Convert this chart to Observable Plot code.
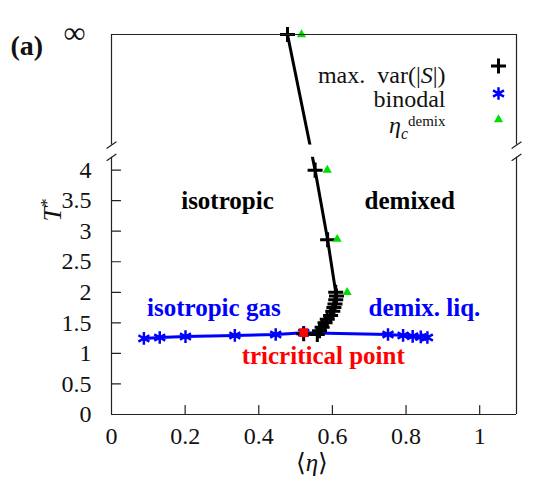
<!DOCTYPE html>
<html>
<head>
<meta charset="utf-8">
<script src="https://cdn.jsdelivr.net/npm/d3@7"></script>
<script src="https://cdn.jsdelivr.net/npm/@observablehq/plot@0.6"></script>
<style>
  body { margin: 0; background: #fff; }
  #chart { width: 541px; height: 488px; }
</style>
</head>
<body>
<div id="chart"></div>
<script>
// Maximum of var(|S|): packing fraction ⟨η⟩ and reduced temperature T* (Infinity = athermal limit)
const crossEta = [0.478, 0.553, 0.587, 0.609, 0.611, 0.609, 0.607, 0.604, 0.601, 0.595, 0.586, 0.580, 0.572, 0.565, 0.559, 0.522];
const crossT   = [Infinity, 4.0, 2.86, 2.0, 1.94, 1.88, 1.81, 1.75, 1.69, 1.62, 1.56, 1.50, 1.43, 1.37, 1.31, 1.32];

// Binodal (gas / demixed liquid coexistence)
const binodalEta = [0.088, 0.131, 0.201, 0.335, 0.446, 0.522, 0.751, 0.792, 0.818, 0.840, 0.858];
const binodalT   = [1.245, 1.26, 1.275, 1.295, 1.31, 1.34, 1.31, 1.295, 1.28, 1.27, 1.26];

// Critical packing fraction of demixing
const demixEta = [0.516, 0.586, 0.613, 0.640];
const demixT   = [Infinity, 4.0, 2.87, 2.0];

// Tricritical point
const tricriticalEta = [0.522];
const tricriticalT   = [1.34];

// Tick values and labels
const xTicks = [0, 0.2, 0.4, 0.6, 0.8, 1];
const xTickLabels = ["0", "0.2", "0.4", "0.6", "0.8", "1"];
const yTicks = [0, 0.5, 1, 1.5, 2, 2.5, 3, 3.5, 4];
const yTickLabels = ["0", "0.5", "1", "1.5", "2", "2.5", "3", "3.5", "4"];

// Region annotations
const annotations = [
  {text: "isotropic", eta: 0.315, T: 3.5, color: "black"},
  {text: "demixed", eta: 0.81, T: 3.5, color: "black"},
  {text: "isotropic gas", eta: 0.278, T: 1.74, color: "blue"},
  {text: "demix. liq.", eta: 0.85, T: 1.74, color: "blue"},
  {text: "tricritical point", eta: 0.575, T: 0.955, color: "red"}
];

// Broken axis: lower panel shows T* in [0, LOWER_TOP]; the strip at INF_ROW stands for T* = ∞
const X_MAX = 1.1;
const LOWER_TOP = 4.21;
const UPPER_BOTTOM = 4.41;
const INF_ROW = 6.22;
const row = t => Number.isFinite(t) ? t : INF_ROW;

const SERIF = "'Liberation Serif', 'Times New Roman', serif";
const INK = "#111";
const BLUE = "#0000ff";
const GREEN = "#00dd00";
const RED = "#ff0000";

const crosses = crossEta.map((eta, i) => ({eta, T: row(crossT[i])}));
const binodal = binodalEta.map((eta, i) => ({eta, T: row(binodalT[i])}));
const demix = demixEta.map((eta, i) => ({eta, T: row(demixT[i])}));
const tricritical = tricriticalEta.map((eta, i) => ({eta, T: tricriticalT[i]}));

// marker styles shared by plot and legend
const plusStyle = {symbol: "plus", r: 4.9, stroke: "black", strokeWidth: 3};
const starStyle = {symbol: "asterisk", r: 6, stroke: BLUE, strokeWidth: 2.5};
const triStyle = {symbol: "triangle", r: 3.4, fill: GREEN};

// straight stroke used for tick marks and axis-break marks
const stroke = {draw(context, l) { context.moveTo(0, 0); context.lineTo(0, -l); }};

const breaks = [0, X_MAX].flatMap(x => [LOWER_TOP, UPPER_BOTTOM].map(y => ({x, y})));

const legendEntries = [
  {label: "max. var(|S|)", style: plusStyle, textDy: 31, symDy: 31.5},
  {label: "binodal", style: starStyle, textDy: 55, symDy: 59},
  {label: "η_c^demix", style: triStyle, textDy: 81, symDy: 85}
];

const legendMarks = legendEntries.flatMap(e => [
  Plot.text([e.label], {frameAnchor: "top-right", dx: -71, dy: e.textDy, textAnchor: "end", text: d => d,
    fill: INK, fontSize: 24, letterSpacing: 1}),
  Plot.dot([e], {frameAnchor: "top-right", dx: -18, dy: e.symDy, ...e.style})
]);

const chart = Plot.plot({
  width: 541,
  height: 488,
  marginLeft: 111,
  marginRight: 25,
  marginTop: 34,
  marginBottom: 74,
  x: {domain: [0, X_MAX]},
  y: {domain: [0, INF_ROW]},
  style: {fontFamily: SERIF, fontSize: "23px", background: "white", color: INK, overflow: "visible"},
  marks: [
    // binodal
    Plot.line(binodal, {x: "eta", y: "T", stroke: BLUE, strokeWidth: 3}),
    Plot.dot(binodal, {x: "eta", y: "T", ...starStyle}),
    // maximum of var(|S|)
    Plot.line(crosses, {x: "eta", y: "T", stroke: "black", strokeWidth: 3}),
    Plot.dot(crosses, {x: "eta", y: "T", ...plusStyle}),
    // demixing packing fraction
    Plot.dot(demix, {x: "eta", y: "T", ...triStyle}),
    // tricritical point
    Plot.dot(tricritical, {x: "eta", y: "T", symbol: "square", r: 5, fill: RED}),

    // gap between the two panels
    Plot.rect([0], {x1: 0, x2: X_MAX, y1: LOWER_TOP, y2: UPPER_BOTTOM, fill: "white"}),

    // panel borders
    Plot.ruleX([0, X_MAX], {y1: 0, y2: LOWER_TOP, stroke: "#222", strokeWidth: 1.2}),
    Plot.ruleX([0, X_MAX], {y1: UPPER_BOTTOM, y2: INF_ROW, stroke: "#222", strokeWidth: 1.2}),
    Plot.ruleY([0, INF_ROW], {stroke: "#222", strokeWidth: 1.2}),
    Plot.vector(breaks, {x: "x", y: "y", rotate: 55, length: 11, anchor: "middle", shape: stroke, stroke: "#222", strokeWidth: 1.2}),

    // inward tick marks
    Plot.vector(xTicks.filter(d => d > 0), {x: d => d, frameAnchor: "bottom", rotate: 0, length: 9, anchor: "start", shape: stroke, stroke: "#222", strokeWidth: 1.2}),
    Plot.vector(yTicks.filter(d => d > 0), {y: d => d, frameAnchor: "left", rotate: 90, length: 9, anchor: "start", shape: stroke, stroke: "#222", strokeWidth: 1.2}),

    // tick labels
    Plot.axisX({ticks: xTicks, tickFormat: d => xTickLabels[xTicks.indexOf(d)], tickSize: 0, tickPadding: 12, label: null, fill: INK, fontSize: 24}),
    Plot.axisY({ticks: yTicks, tickFormat: d => yTickLabels[yTicks.indexOf(d)], tickSize: 0, tickPadding: 20, label: null, fill: INK, fontSize: 24}),
    Plot.text(["∞"], {frameAnchor: "left", y: INF_ROW, dx: -26, dy: -1, textAnchor: "end", text: d => d, fill: INK, fontSize: 31}),

    // axis titles and panel tag
    Plot.text(["⟨η⟩"], {frameAnchor: "bottom", dy: 56, dx: -2, text: d => d, fill: INK, fontSize: 25}),
    Plot.text(["T*"], {frameAnchor: "left", dx: -59, dy: -3, rotate: -90, text: d => d, fill: INK, fontSize: 26}),
    Plot.text(["(a)"], {frameAnchor: "top-left", dx: -101, dy: 1, textAnchor: "start", text: d => d, fontWeight: "bold", fill: INK, fontSize: 28, letterSpacing: 0.8}),

    // region annotations
    Plot.text(annotations, {x: "eta", y: "T", text: "text", fill: "color", fontWeight: "bold", fontSize: 25, letterSpacing: 1.7}),

    ...legendMarks
  ]
});

// rich text: italics, sub- and superscripts
const SVGNS = "http://www.w3.org/2000/svg";
function rich(plain, parts) {
  chart.querySelectorAll("text").forEach(el => {
    if (el.textContent !== plain) return;
    el.textContent = "";
    for (const p of parts) {
      const t = document.createElementNS(SVGNS, "tspan");
      t.textContent = p.text;
      for (const [k, v] of Object.entries(p.attrs || {})) t.setAttribute(k, v);
      el.appendChild(t);
    }
  });
}
rich("max. var(|S|)", [
  {text: "max.\u00a0\u00a0var(|"},
  {text: "S", attrs: {"font-style": "italic"}},
  {text: "|)"}
]);
rich("η_c^demix", [
  {text: "η", attrs: {"font-style": "italic"}},
  {text: "c", attrs: {"font-style": "italic", "font-size": 16, dy: 6}},
  {text: "demix", attrs: {"font-size": 15, dy: -13}}
]);
rich("⟨η⟩", [
  {text: "⟨"},
  {text: "η", attrs: {"font-style": "italic"}},
  {text: "⟩"}
]);
rich("T*", [
  {text: "T", attrs: {"font-style": "italic"}},
  {text: "*", attrs: {"font-size": 17, dy: -9}}
]);

document.getElementById("chart").appendChild(chart);
</script>
</body>
</html>
